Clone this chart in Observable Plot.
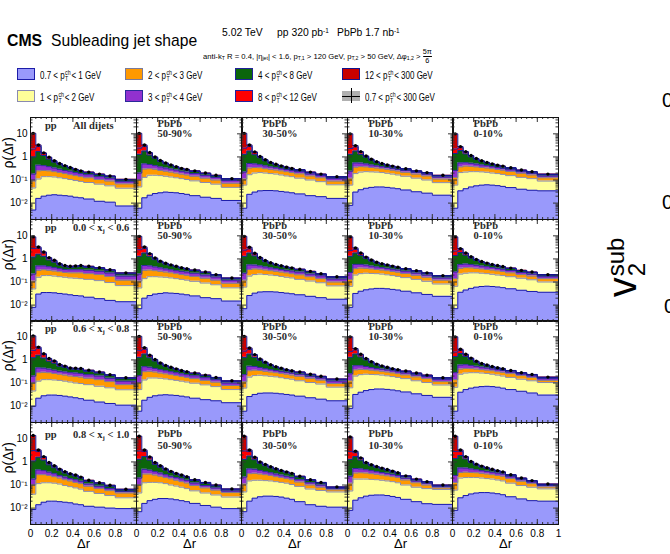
<!DOCTYPE html>
<html>
<head>
<meta charset="utf-8">
<script src="https://cdn.jsdelivr.net/npm/d3@7"></script>
<script src="https://cdn.jsdelivr.net/npm/@observablehq/plot@0.6"></script>
<style>
html,body{margin:0;padding:0;background:#fff;}
#fig{position:relative;width:670px;height:554px;overflow:hidden;font-family:"Liberation Sans",Arial,Helvetica,sans-serif;color:#000;}
.t{position:absolute;white-space:nowrap;line-height:1;color:#000;}
.t sup{font-size:0.62em;vertical-align:0.45em;line-height:0;}
.t sub{font-size:0.68em;vertical-align:-0.3em;line-height:0;}
.pt{display:inline-block;font-size:6.5px;line-height:6.5px;vertical-align:-3px;margin:0 1px 0 0.5px;text-align:left;}
.pt span{display:block;}
.frac{display:inline-block;vertical-align:-4px;text-align:center;font-size:7.5px;line-height:7.5px;}
.frac span{display:block;}
.frac span:first-child{border-bottom:0.8px solid #000;}
.serif{font-family:"Liberation Serif","Times New Roman",serif;font-weight:bold;color:#2a2a2a;}
.serif sub{font-size:7px;vertical-align:-2px;}
.sw{position:absolute;width:18px;height:12px;box-sizing:border-box;border:1px solid;}
.vss{display:inline-block;font-size:24px;line-height:21px;vertical-align:-9px;margin-left:1px;}
.vss span{display:block;}
</style>
</head>
<body>
<div id="fig"></div>
<script>
// ---------------- data ----------------
// Δr bin edges of the jet-shape histograms
const edges = [0, 0.05, 0.1, 0.15, 0.2, 0.25, 0.3, 0.35, 0.4, 0.45, 0.5, 0.6, 0.7, 0.8, 1.0];
// track pT^ch intervals of the stacked layers (bottom to top)
const ptLow  = ["0.7", "1", "2", "3", "4", "8", "12"];
const ptHigh = ["1", "2", "3", "4", "8", "12", "300"];
const layerColors = ["#9999fb", "#ffff99", "#ff9900", "#9131cf", "#0b650b", "#ff0000", "#c80000"];
const layerLines  = ["#1c1ca8", "#8a8ab0", "#7a7a9a", "#2a2a9a", "#20209a", "#2020a0", "#12128c"];
const colLabels = ["pp", "50-90%", "30-50%", "10-30%", "0-10%"];
const xjLow  = ["0.0", "0.6", "0.8"];
const xjHigh = ["0.6", "0.8", "1.0"];
const xTicks = [0, 0.2, 0.4, 0.6, 0.8];
const xTicksLast = [0, 0.2, 0.4, 0.6, 0.8, 1];
const yTicks = [0.01, 0.1, 1, 10];
const yTickLabels = ["10\u207B\u00B2", "10\u207B\u00B9", "1", "10"];

// Each panel: upper edge of each stacked layer ρ(Δr), pT^ch from 0.7 GeV up to 1,2,3,4,8,12,300 GeV
// Row 1: all dijets
const pp_all = [
  [.005,.016,.020,.022,.023,.022,.021,.020,.018,.017,.015,.012,.011,.0075],
  [.045,.11,.14,.14,.135,.125,.115,.105,.095,.087,.078,.066,.056,.044],
  [.09,.25,.26,.25,.23,.21,.19,.17,.155,.14,.125,.105,.09,.068],
  [.18,.44,.42,.38,.33,.29,.26,.24,.21,.19,.17,.14,.12,.085],
  [1.0,1.7,1.15,.80,.59,.46,.39,.33,.275,.237,.208,.17,.142,.10],
  [2.2,2.8,1.4,.92,.65,.50,.41,.34,.285,.245,.215,.176,.147,.104],
  [10.5,3.3,1.5,.98,.68,.52,.42,.35,.29,.25,.22,.18,.15,.107]];
const pb5090_all = [
  [.006,.017,.022,.026,.028,.030,.029,.028,.026,.024,.021,.018,.016,.013],
  [.05,.13,.16,.16,.155,.145,.135,.125,.115,.105,.092,.078,.066,.048],
  [.10,.30,.31,.29,.26,.24,.22,.20,.18,.165,.145,.12,.10,.072],
  [.20,.50,.47,.42,.37,.33,.30,.27,.24,.22,.19,.16,.13,.095],
  [1.3,1.8,1.2,.88,.63,.50,.42,.355,.30,.27,.235,.19,.152,.108],
  [2.4,2.8,1.45,.95,.67,.53,.44,.37,.31,.28,.243,.195,.156,.112],
  [10.5,3.3,1.55,1.0,.70,.55,.45,.38,.32,.29,.25,.20,.16,.115]];
const pb3050_all = [
  [.006,.024,.030,.034,.035,.035,.034,.032,.030,.028,.025,.021,.019,.016],
  [.06,.17,.20,.21,.20,.19,.18,.165,.15,.14,.12,.10,.085,.062],
  [.11,.33,.35,.34,.31,.29,.27,.25,.23,.21,.185,.15,.125,.09],
  [.22,.52,.50,.46,.41,.37,.34,.31,.285,.26,.23,.185,.155,.115],
  [1.3,1.8,1.25,.92,.68,.53,.45,.385,.34,.30,.265,.21,.172,.133],
  [2.4,2.8,1.55,1.0,.73,.56,.47,.40,.35,.31,.275,.216,.177,.137],
  [10.5,3.3,1.65,1.05,.76,.58,.48,.41,.36,.32,.28,.22,.18,.14]];
const pb1030_all = [
  [.008,.03,.038,.044,.048,.05,.05,.048,.045,.042,.037,.031,.027,.022],
  [.06,.19,.22,.23,.225,.22,.21,.195,.18,.165,.145,.12,.10,.077],
  [.12,.36,.38,.37,.35,.33,.31,.29,.265,.245,.215,.18,.15,.11],
  [.24,.55,.54,.50,.45,.41,.38,.35,.32,.29,.26,.215,.18,.135],
  [1.3,1.8,1.3,.97,.72,.57,.49,.42,.375,.34,.295,.24,.20,.152],
  [2.3,2.7,1.6,1.05,.77,.60,.51,.44,.39,.35,.305,.245,.205,.156],
  [10,3.1,1.7,1.1,.80,.62,.52,.45,.40,.36,.31,.25,.21,.16]];
const pb010_all = [
  [.006,.034,.042,.05,.056,.060,.062,.06,.057,.053,.047,.04,.036,.034],
  [.06,.21,.22,.23,.23,.225,.215,.20,.19,.175,.155,.13,.115,.09],
  [.13,.37,.40,.39,.37,.35,.33,.31,.285,.265,.235,.195,.165,.125],
  [.26,.55,.56,.53,.49,.45,.42,.38,.35,.32,.28,.23,.195,.15],
  [1.4,1.9,1.35,1.0,.77,.63,.54,.47,.415,.375,.325,.26,.22,.172],
  [2.2,2.5,1.6,1.1,.82,.66,.565,.49,.43,.39,.335,.265,.225,.176],
  [10,2.8,1.7,1.15,.85,.68,.58,.50,.44,.40,.34,.27,.23,.18]];
// Row 2: 0.0 < xj < 0.6
const pp_xj1 = [
  [.008,.030,.035,.035,.034,.032,.030,.028,.026,.025,.022,.019,.016,.014],
  [.05,.16,.19,.19,.18,.17,.16,.15,.145,.14,.13,.115,.095,.07],
  [.11,.32,.34,.32,.30,.28,.26,.25,.25,.25,.23,.21,.175,.12],
  [.22,.50,.50,.46,.42,.38,.35,.34,.34,.34,.32,.29,.245,.18],
  [1.2,1.6,1.3,.90,.72,.54,.46,.43,.45,.47,.43,.38,.31,.225],
  [2.8,2.9,1.8,1.05,.82,.59,.50,.46,.48,.50,.46,.40,.33,.24],
  [9,3.3,2.0,1.14,.87,.62,.52,.48,.50,.52,.48,.42,.34,.25]];
const pb5090_xj1 = [
  [.007,.02,.026,.03,.032,.034,.033,.032,.03,.028,.025,.021,.019,.015],
  [.055,.14,.17,.17,.165,.16,.15,.14,.13,.12,.107,.09,.076,.056],
  [.11,.32,.33,.31,.29,.27,.25,.23,.21,.195,.175,.145,.12,.088],
  [.22,.52,.50,.45,.41,.37,.34,.31,.29,.27,.24,.20,.165,.12],
  [1.3,1.8,1.3,.93,.72,.59,.51,.45,.39,.355,.31,.255,.197,.14],
  [2.5,2.8,1.6,1.05,.77,.63,.54,.47,.41,.37,.325,.265,.205,.147],
  [9.5,3.3,1.7,1.1,.80,.65,.55,.48,.42,.38,.33,.27,.21,.15]];
const pb3050_xj1 = [
  [.007,.026,.033,.037,.038,.038,.037,.035,.033,.031,.028,.024,.021,.018],
  [.06,.18,.21,.22,.21,.20,.19,.175,.16,.15,.13,.11,.093,.068],
  [.12,.35,.37,.36,.33,.31,.29,.27,.25,.23,.205,.17,.14,.10],
  [.24,.55,.54,.50,.45,.41,.38,.35,.32,.30,.27,.22,.185,.135],
  [1.3,1.8,1.35,.98,.76,.62,.54,.48,.42,.385,.34,.275,.218,.16],
  [2.4,2.7,1.65,1.1,.82,.66,.57,.50,.44,.40,.355,.285,.226,.166],
  [9.5,3.2,1.75,1.15,.85,.68,.58,.51,.45,.41,.36,.29,.23,.17]];
const pb1030_xj1 = [
  [.008,.032,.04,.046,.05,.053,.053,.051,.048,.045,.04,.034,.029,.024],
  [.065,.2,.23,.24,.235,.23,.22,.205,.19,.175,.155,.13,.107,.082],
  [.13,.38,.40,.39,.37,.35,.33,.31,.285,.265,.235,.195,.16,.12],
  [.26,.58,.58,.54,.49,.45,.42,.39,.36,.33,.295,.245,.20,.15],
  [1.3,1.8,1.4,1.03,.80,.66,.58,.515,.46,.415,.36,.295,.238,.18],
  [2.3,2.6,1.7,1.15,.87,.70,.61,.54,.48,.43,.375,.305,.245,.186],
  [9,3.0,1.8,1.2,.90,.72,.62,.55,.49,.44,.38,.31,.25,.19]];
const pb010_xj1 = [
  [.007,.036,.045,.053,.06,.064,.066,.064,.061,.057,.051,.044,.039,.036],
  [.065,.22,.24,.25,.25,.24,.23,.215,.20,.19,.17,.145,.125,.10],
  [.14,.39,.42,.41,.39,.37,.35,.33,.305,.285,.25,.21,.18,.14],
  [.27,.58,.60,.57,.53,.49,.46,.42,.39,.36,.315,.26,.22,.17],
  [1.4,1.9,1.45,1.08,.86,.71,.62,.545,.49,.445,.385,.305,.258,.198],
  [2.2,2.5,1.7,1.2,.92,.75,.65,.57,.51,.46,.395,.315,.265,.205],
  [9,2.8,1.8,1.25,.95,.77,.66,.58,.52,.47,.40,.32,.27,.21]];
// Row 3: 0.6 < xj < 0.8
const pp_xj2 = [
  [.0098,.022,.028,.030,.030,.029,.027,.025,.023,.021,.018,.015,.013,.011],
  [.045,.12,.14,.14,.135,.13,.12,.11,.10,.095,.085,.072,.062,.051],
  [.10,.28,.29,.28,.26,.24,.22,.20,.19,.18,.16,.14,.115,.085],
  [.20,.45,.44,.40,.36,.32,.30,.28,.27,.26,.23,.20,.16,.12],
  [1.25,1.6,1.2,.88,.72,.53,.47,.40,.39,.38,.32,.27,.21,.155],
  [2.6,3.1,1.7,1.08,.85,.60,.52,.435,.425,.415,.35,.29,.224,.165],
  [11,3.6,1.85,1.16,.90,.63,.54,.45,.44,.43,.36,.30,.23,.17]];
const pb5090_xj2 = [
  [.006,.018,.024,.028,.030,.031,.030,.029,.027,.025,.022,.019,.017,.014],
  [.052,.135,.165,.165,.16,.15,.14,.13,.12,.11,.098,.083,.07,.052],
  [.105,.31,.32,.30,.27,.25,.23,.21,.19,.175,.155,.13,.108,.078],
  [.21,.51,.48,.43,.38,.34,.31,.28,.25,.23,.205,.17,.14,.10],
  [1.3,1.8,1.25,.90,.66,.53,.44,.38,.325,.29,.255,.207,.165,.117],
  [2.5,2.9,1.5,1.0,.71,.56,.47,.40,.34,.30,.263,.215,.17,.122],
  [10.5,3.4,1.6,1.05,.74,.58,.48,.41,.35,.31,.27,.22,.175,.125]];
const pb3050_xj2 = [
  [.006,.026,.032,.036,.037,.037,.036,.034,.032,.03,.027,.023,.02,.017],
  [.06,.18,.21,.215,.205,.195,.185,.17,.155,.145,.125,.105,.09,.066],
  [.115,.34,.36,.35,.32,.30,.28,.26,.24,.22,.195,.16,.133,.095],
  [.23,.53,.52,.47,.42,.38,.35,.32,.295,.27,.24,.195,.165,.122],
  [1.3,1.8,1.3,.95,.72,.57,.47,.41,.355,.32,.28,.225,.185,.14],
  [2.4,2.8,1.6,1.05,.77,.60,.50,.43,.37,.335,.295,.235,.19,.146],
  [10.5,3.3,1.7,1.1,.80,.62,.51,.44,.38,.34,.30,.24,.195,.15]];
const pb1030_xj2 = [
  [.008,.032,.04,.047,.052,.055,.055,.053,.05,.046,.041,.034,.029,.024],
  [.062,.20,.23,.24,.235,.23,.22,.205,.19,.175,.155,.125,.105,.082],
  [.125,.37,.39,.38,.36,.34,.32,.30,.275,.255,.225,.185,.155,.115],
  [.25,.56,.56,.52,.47,.43,.40,.37,.34,.31,.275,.225,.19,.145],
  [1.3,1.8,1.35,1.0,.76,.61,.52,.45,.395,.36,.315,.255,.21,.162],
  [2.3,2.7,1.65,1.1,.81,.64,.54,.47,.41,.375,.325,.265,.215,.166],
  [10,3.1,1.75,1.15,.84,.66,.55,.48,.42,.38,.33,.27,.22,.17]];
const pb010_xj2 = [
  [.006,.04,.052,.06,.066,.070,.072,.07,.066,.06,.052,.044,.037,.03],
  [.065,.24,.27,.28,.28,.27,.26,.24,.22,.20,.175,.145,.125,.105],
  [.14,.40,.43,.42,.40,.38,.36,.34,.31,.29,.255,.21,.175,.13],
  [.28,.60,.62,.58,.53,.49,.45,.41,.38,.35,.30,.245,.205,.155],
  [1.4,1.9,1.4,1.05,.80,.65,.56,.49,.435,.395,.335,.268,.225,.172],
  [2.2,2.6,1.65,1.15,.85,.68,.59,.51,.45,.41,.345,.275,.23,.176],
  [10,2.9,1.75,1.2,.88,.70,.60,.52,.46,.42,.35,.28,.235,.18]];
// Row 4: 0.8 < xj < 1.0
const pp_xj3 = [
  [.0087,.014,.018,.02,.02,.019,.018,.017,.015,.014,.012,.011,.01,.0095],
  [.04,.115,.125,.125,.12,.11,.095,.085,.075,.066,.053,.043,.035,.028],
  [.10,.28,.28,.26,.23,.20,.17,.15,.13,.115,.088,.07,.057,.045],
  [.18,.45,.42,.36,.31,.26,.22,.19,.17,.145,.11,.088,.07,.052],
  [1.1,1.6,1.2,.75,.56,.42,.33,.275,.24,.197,.145,.113,.088,.06],
  [3.1,2.8,1.55,.88,.64,.47,.365,.30,.26,.213,.155,.121,.095,.064],
  [14,3.3,1.7,.95,.68,.49,.38,.31,.27,.22,.16,.125,.098,.066]];
const pb5090_xj3 = [
  [.007,.016,.021,.024,.026,.026,.025,.023,.021,.019,.016,.013,.011,.0095],
  [.045,.125,.13,.13,.125,.115,.10,.09,.08,.07,.056,.045,.037,.03],
  [.10,.30,.30,.27,.24,.21,.185,.16,.14,.122,.095,.075,.06,.047],
  [.20,.48,.44,.38,.33,.28,.24,.21,.185,.16,.122,.095,.075,.055],
  [1.3,1.7,1.2,.78,.58,.44,.35,.29,.245,.21,.155,.118,.091,.062],
  [3.0,2.8,1.5,.89,.65,.48,.375,.31,.262,.223,.165,.126,.097,.066],
  [13,3.3,1.65,.95,.68,.50,.39,.32,.27,.23,.17,.13,.10,.068]];
const pb3050_xj3 = [
  [.007,.02,.027,.031,.033,.033,.032,.03,.027,.024,.019,.014,.012,.011],
  [.05,.15,.16,.16,.155,.15,.14,.13,.12,.105,.087,.067,.058,.05],
  [.11,.31,.32,.30,.28,.26,.23,.21,.19,.17,.135,.10,.08,.062],
  [.22,.50,.48,.43,.38,.34,.30,.27,.24,.215,.17,.125,.10,.07],
  [1.3,1.8,1.25,.86,.68,.55,.46,.39,.34,.30,.225,.16,.122,.078],
  [3.0,2.8,1.5,.95,.75,.60,.50,.42,.36,.315,.235,.167,.127,.081],
  [13,3.3,1.6,1.0,.78,.62,.51,.43,.37,.32,.24,.17,.13,.083]];
const pb1030_xj3 = [
  [.008,.022,.028,.033,.036,.037,.037,.035,.032,.029,.024,.019,.0155,.0145],
  [.055,.18,.18,.18,.175,.17,.16,.15,.14,.125,.10,.08,.07,.064],
  [.12,.33,.34,.33,.31,.29,.27,.25,.23,.21,.165,.125,.10,.075],
  [.24,.52,.50,.46,.42,.38,.35,.32,.29,.26,.20,.15,.12,.085],
  [1.3,1.7,1.2,.84,.68,.57,.50,.43,.37,.32,.235,.17,.133,.094],
  [2.8,2.5,1.42,.91,.72,.61,.53,.46,.39,.335,.245,.177,.138,.098],
  [12,2.9,1.5,.95,.75,.63,.54,.47,.40,.34,.25,.18,.14,.10]];
const pb010_xj3 = [
  [.008,.028,.035,.041,.045,.047,.047,.045,.042,.038,.031,.025,.021,.02],
  [.06,.20,.21,.21,.21,.20,.19,.18,.165,.15,.12,.095,.08,.068],
  [.13,.35,.36,.35,.34,.32,.30,.28,.26,.24,.19,.145,.115,.083],
  [.26,.55,.54,.50,.46,.42,.39,.36,.33,.30,.23,.17,.135,.095],
  [1.4,1.9,1.35,.93,.73,.60,.52,.45,.395,.35,.265,.19,.147,.104],
  [2.8,2.8,1.6,1.0,.77,.64,.55,.47,.41,.365,.275,.197,.152,.108],
  [13,3.3,1.7,1.05,.80,.66,.56,.48,.42,.37,.28,.20,.155,.11]];

const panelData = [
  [pp_all, pb5090_all, pb3050_all, pb1030_all, pb010_all],
  [pp_xj1, pb5090_xj1, pb3050_xj1, pb1030_xj1, pb010_xj1],
  [pp_xj2, pb5090_xj2, pb3050_xj2, pb1030_xj2, pb010_xj2],
  [pp_xj3, pb5090_xj3, pb3050_xj3, pb1030_xj3, pb010_xj3]];

// ---------------- layout ----------------
const fig = document.getElementById("fig");
const yDomain = [0.00195, 51];
const W = 106, H = 102;
const colLeft = c => Math.round(30 + c * 105.6);
const rowTop = r => Math.round(117 + r * 101.5);

function addText(html, x, baseline, fs, opts = {}) {
  const d = document.createElement("div");
  d.className = "t" + (opts.cls ? " " + opts.cls : "");
  d.innerHTML = html;
  d.style.left = x + "px";
  d.style.top = (baseline - 0.845 * fs) + "px";
  d.style.fontSize = fs + "px";
  if (opts.style) Object.assign(d.style, opts.style);
  fig.appendChild(d);
  return d;
}
const pT = '<span class="pt"><span>ch</span><span>T</span></span>';
const narrow = s => ({transform: `scaleX(${s})`, transformOrigin: "left"});

// header
addText("CMS", 7, 46, 17, {style: {fontWeight: "bold", ...narrow(0.93)}});
addText("Subleading jet shape", 51, 46, 17, {style: narrow(0.92)});
addText("5.02 TeV", 222, 37, 11.5, {style: narrow(0.9)});
addText("pp 320 pb<sup>-1</sup>", 277, 37, 11.5, {style: narrow(0.9)});
addText("PbPb 1.7 nb<sup>-1</sup>", 337, 37, 11.5, {style: narrow(0.9)});
addText('anti-k<sub>T</sub> R = 0.4, |&eta;<sub>jet</sub>| &lt; 1.6, p<sub>T,1</sub> &gt; 120 GeV, p<sub>T,2</sub> &gt; 50 GeV, &Delta;&phi;<sub>1,2</sub> &gt; <span class="frac"><span>5&pi;</span><span>6</span></span>',
  203, 55, 7.9, {style: narrow(0.97)});

// legend
const legendPos = [[17, 68], [17, 90], [125, 68], [125, 90], [235, 68], [235, 90], [342, 68]];
ptLow.forEach((lo, k) => {
  const [x, y] = legendPos[k];
  const s = document.createElement("div");
  s.className = "sw";
  s.style.left = x + "px"; s.style.top = y + "px";
  s.style.background = layerColors[k]; s.style.borderColor = layerLines[k];
  fig.appendChild(s);
  addText(`${lo} &lt; p${pT}&lt; ${ptHigh[k]} GeV`, x + 23, y + 10, 10, {style: narrow(0.8)});
});
{
  const x = 342, y = 90;
  const box = document.createElement("div");
  Object.assign(box.style, {position: "absolute", left: x + "px", top: (y + 1) + "px", width: "18px", height: "10px", background: "#b0b0b0"});
  fig.appendChild(box);
  const h = document.createElement("div");
  Object.assign(h.style, {position: "absolute", left: x + "px", top: (y + 5.5) + "px", width: "18px", height: "1px", background: "#000"});
  fig.appendChild(h);
  const v = document.createElement("div");
  Object.assign(v.style, {position: "absolute", left: (x + 8.5) + "px", top: (y - 2) + "px", width: "1px", height: "15px", background: "#000"});
  fig.appendChild(v);
  addText(`${ptLow[0]} &lt; p${pT}&lt; ${ptHigh[6]} GeV`, x + 23, y + 10, 10, {style: narrow(0.8)});
}

// ---------------- panels ----------------
function drawPanel(r, c, tops) {
  const mL = c === 0 ? 32 : 1, mR = 1, mT = 1, mB = r === 3 ? 36 : 1;
  const areas = [], lines = [];
  tops.forEach((top, k) => {
    const pts = edges.map((e, i) => {
      const j = Math.min(i, top.length - 1);
      return {x: e, y1: k === 0 ? yDomain[0] : tops[k - 1][j], y2: top[j]};
    });
    areas.push(Plot.areaY(pts, {x: "x", y1: "y1", y2: "y2", curve: "step-after", fill: layerColors[k]}));
    lines.push(Plot.lineY(pts, {x: "x", y: "y2", curve: "step-after", stroke: layerLines[k], strokeWidth: 1}));
  });
  const total = tops[tops.length - 1];
  const dots = total.map((v, i) => ({x: (edges[i] + edges[i + 1]) / 2, y: v}));
  const minorX = d3.range(0, 21).map(i => i / 20);
  const majorX = xTicksLast;
  const minorY = [];
  [0.001, 0.01, 0.1, 1, 10].forEach(dec => { for (let m = 2; m <= 9; m++) { const v = dec * m; if (v > yDomain[0] && v < yDomain[1]) minorY.push(v); } });
  const marks = [
    ...areas, ...lines,
    Plot.dot(dots, {x: "x", y: "y", r: 1.7, fill: "#000"}),
    Plot.tickX(minorX, {x: d => d, insetTop: H - 2, stroke: "#333"}),
    Plot.tickX(majorX, {x: d => d, insetTop: H - 5, stroke: "#333"}),
    Plot.tickX(minorX, {x: d => d, insetBottom: H - 2, stroke: "#333"}),
    Plot.tickX(majorX, {x: d => d, insetBottom: H - 5, stroke: "#333"}),
    Plot.tickY(minorY, {y: d => d, insetRight: W - 2.5, stroke: "#333"}),
    Plot.tickY(yTicks, {y: d => d, insetRight: W - 5, stroke: "#333"}),
    Plot.tickY(minorY, {y: d => d, insetLeft: W - 2.5, stroke: "#333"}),
    Plot.tickY(yTicks, {y: d => d, insetLeft: W - 5, stroke: "#333"}),
    Plot.frame({stroke: "#111", strokeWidth: 1})
  ];
  if (c === 0) marks.push(Plot.text(["\u03C1(\u0394r)"], {text: d => d, frameAnchor: "left", rotate: -90, dx: -22, fontSize: 14}));
  if (r === 3) marks.push(Plot.text(["\u0394r"], {text: d => d, frameAnchor: "bottom", dy: 23, fontSize: 13}));
  const svg = Plot.plot({
    width: mL + W + mR, height: mT + H + mB,
    marginLeft: mL, marginRight: mR, marginTop: mT, marginBottom: mB,
    style: {background: "none", overflow: "visible", fontFamily: "'Liberation Sans', Arial, sans-serif", fontSize: "10px", color: "#000"},
    x: r === 3
      ? {domain: [0, 1], ticks: c === 4 ? xTicksLast : xTicks, tickFormat: d => d === 0 ? "0" : String(d), tickSize: 0, tickPadding: 5, label: null}
      : {domain: [0, 1], axis: null},
    y: c === 0
      ? {type: "log", domain: yDomain, ticks: yTicks, tickFormat: d => yTickLabels[yTicks.indexOf(d)], tickSize: 0, tickPadding: 3, label: null}
      : {type: "log", domain: yDomain, axis: null},
    marks
  });
  svg.style.position = "absolute";
  svg.style.left = (colLeft(c) - mL) + "px";
  svg.style.top = (rowTop(r) - mT) + "px";
  fig.appendChild(svg);
}

panelData.forEach((row, r) => row.forEach((tops, c) => drawPanel(r, c, tops)));

// panel annotations
panelData.forEach((row, r) => row.forEach((tops, c) => {
  const x0 = colLeft(c), y0 = rowTop(r);
  if (c === 0) {
    const b = y0 + (r === 3 ? 16.5 : 12.5);
    addText(colLabels[0], x0 + 15, b, 10.5, {cls: "serif"});
    const lab = r === 0 ? "All dijets" : `${xjLow[r - 1]} &lt; x<sub>j</sub> &lt; ${xjHigh[r - 1]}`;
    addText(lab, x0 + 43, b, 10.5, {cls: "serif"});
  } else {
    addText("PbPb", x0 + 21.5, y0 + (r === 3 ? 15.5 : 10.5), 10.5, {cls: "serif"});
    addText(colLabels[c], x0 + 21.5, y0 + (r === 3 ? 28 : 21), 10.5, {cls: "serif"});
  }
}));

// neighbouring figure fragments on the right
{
  const d = document.createElement("div");
  d.className = "t";
  d.style.fontSize = "40px";
  d.innerHTML = 'v<span class="vss"><span>sub</span><span>2</span></span>';
  fig.appendChild(d);
  const w = d.offsetWidth, h = d.offsetHeight;
  d.style.left = (625 - w / 2) + "px";
  d.style.top = (267 - h / 2) + "px";
  d.style.transform = "rotate(-90deg)";
  d.style.transformOrigin = "center";
}
addText("0", 662, 107, 20);
addText("0", 662, 209, 20);
addText("0", 664, 313, 20);
</script>
</body>
</html>
